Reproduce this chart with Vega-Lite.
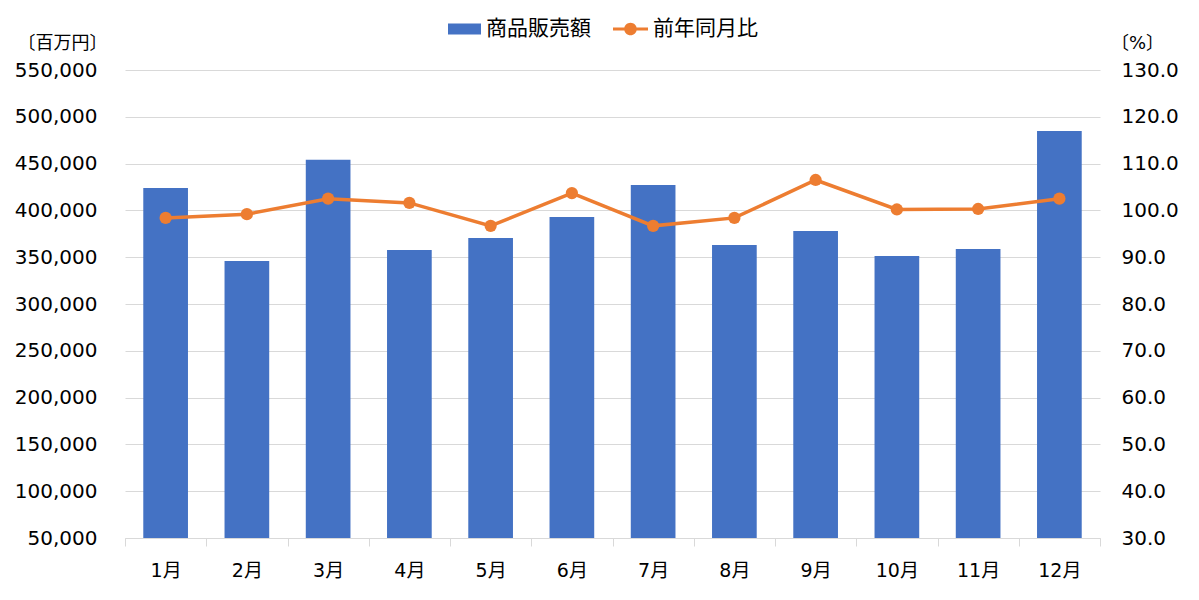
{
  "$schema": "https://vega.github.io/schema/vega-lite/v6.json",
  "width": 975,
  "height": 468,
  "autosize": "none",
  "padding": {"left": 125, "top": 70, "right": 99, "bottom": 62},
  "background": "white",
  "config": {
    "view": {"stroke": null},
    "font": "DejaVu Sans, Noto Sans CJK JP",
    "axis": {"labelColor": "#000", "titleColor": "#000", "labelFont": "DejaVu Sans, Noto Sans CJK JP", "titleFont": "DejaVu Sans, Noto Sans CJK JP"},
    "legend": {"labelColor": "#000", "labelFont": "DejaVu Sans, Noto Sans CJK JP"}
  },
  "data": {
    "values": [
      {"month": "1月", "sales": 424000, "ratio": 98.4},
      {"month": "2月", "sales": 346000, "ratio": 99.2},
      {"month": "3月", "sales": 454000, "ratio": 102.5},
      {"month": "4月", "sales": 357700, "ratio": 101.6},
      {"month": "5月", "sales": 370500, "ratio": 96.7},
      {"month": "6月", "sales": 393000, "ratio": 103.7},
      {"month": "7月", "sales": 427200, "ratio": 96.7},
      {"month": "8月", "sales": 363000, "ratio": 98.4},
      {"month": "9月", "sales": 378000, "ratio": 106.5},
      {"month": "10月", "sales": 351300, "ratio": 100.2},
      {"month": "11月", "sales": 358800, "ratio": 100.3},
      {"month": "12月", "sales": 484800, "ratio": 102.5}
    ]
  },
  "layer": [
    {
      "mark": {"type": "bar", "width": {"band": 0.55}, "color": "#4472C4"},
      "encoding": {
        "x": {
          "field": "month", "type": "nominal", "sort": null,
          "scale": {"paddingInner": 0, "paddingOuter": 0},
          "axis": {"title": null, "tickBand": "extent", "domainColor": "#D9D9D9", "tickColor": "#D9D9D9", "tickSize": 8, "labelFontSize": 19, "labelPadding": 15, "labelAngle": 0, "grid": false}
        },
        "y": {
          "field": "sales", "type": "quantitative",
          "scale": {"domain": [50000, 550000], "nice": false, "zero": false},
          "axis": {
            "values": [50000, 100000, 150000, 200000, 250000, 300000, 350000, 400000, 450000, 500000, 550000],
            "format": ",d", "title": "〔百万円〕", "titleAngle": 0, "titleX": -63, "titleY": -27,
            "titleAlign": "center", "titleBaseline": "middle", "titleFontSize": 18, "titleFontWeight": "normal",
            "labelFontSize": 20, "labelPadding": 28, "ticks": false, "tickSize": 0, "domain": false,
            "grid": true, "gridColor": "#D9D9D9", "gridWidth": 1
          }
        },
        "y2": {"datum": 50000},
        "color": {
          "datum": "商品販売額",
          "scale": {"range": ["#4472C4"]},
          "legend": {
            "orient": "none", "legendX": 323, "legendY": -57.5, "title": null, "padding": 0,
            "symbolType": "M-1,-0.333H1V0.333H-1Z", "symbolSize": 1089, "symbolStrokeWidth": 0,
            "labelFontSize": 21, "labelOffset": 5
          }
        }
      }
    },
    {
      "encoding": {
        "x": {"field": "month", "type": "nominal", "sort": null},
        "y": {
          "field": "ratio", "type": "quantitative",
          "scale": {"domain": [30, 130], "nice": false, "zero": false},
          "axis": {
            "orient": "right",
            "values": [30, 40, 50, 60, 70, 80, 90, 100, 110, 120, 130],
            "format": ".1f", "title": "〔%〕", "titleAngle": 0, "titleX": 37, "titleY": -27,
            "titleAlign": "center", "titleBaseline": "middle", "titleFontSize": 18, "titleFontWeight": "normal",
            "labelFontSize": 20, "labelPadding": 21, "ticks": false, "tickSize": 0, "domain": false, "grid": false
          }
        }
      },
      "layer": [
        {
          "mark": {"type": "line", "color": "#ED7D31", "strokeWidth": 3.5},
          "encoding": {
            "color": {
              "datum": "前年同月比",
              "scale": {"range": ["#ED7D31"]},
              "legend": {
                "orient": "none", "legendX": 488, "legendY": -58.5, "title": null, "padding": 0,
                "symbolType": "M-1,-0.09H1V0.09H-1Z M0.36,0A0.36,0.36 0 1,1 -0.36,0A0.36,0.36 0 1,1 0.36,0Z",
                "symbolSize": 1225, "labelFontSize": 21, "labelOffset": 5,
                "encode": {"symbols": {"update": {"shape": {"value": "M-1,-0.09H1V0.09H-1Z M0.36,0A0.36,0.36 0 1,1 -0.36,0A0.36,0.36 0 1,1 0.36,0Z"}, "size": {"value": 1225}, "fill": {"value": "#ED7D31"}, "stroke": {"value": "#ED7D31"}, "strokeWidth": {"value": 0}, "opacity": {"value": 1}}}}
              }
            }
          }
        },
        {
          "mark": {"type": "point", "filled": true, "color": "#ED7D31", "size": 150, "opacity": 1},
          "encoding": {}
        }
      ]
    }
  ],
  "resolve": {"scale": {"y": "independent", "color": "independent"}}
}
